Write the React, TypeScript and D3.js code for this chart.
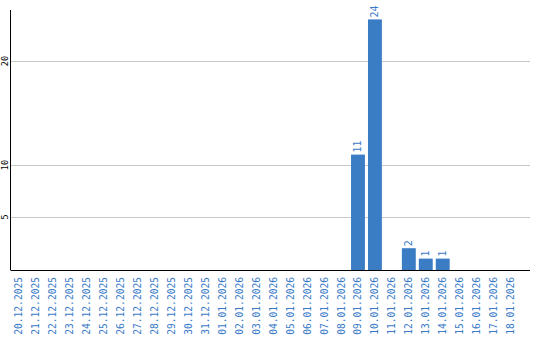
import React from "react";
import * as d3 from "d3";

const categories = [
  "20.12.2025","21.12.2025","22.12.2025","23.12.2025","24.12.2025","25.12.2025","26.12.2025","27.12.2025","28.12.2025","29.12.2025","30.12.2025","31.12.2025",
  "01.01.2026","02.01.2026","03.01.2026","04.01.2026","05.01.2026","06.01.2026","07.01.2026","08.01.2026","09.01.2026","10.01.2026","11.01.2026","12.01.2026",
  "13.01.2026","14.01.2026","15.01.2026","16.01.2026","17.01.2026","18.01.2026",
];
const values = [0,0,0,0,0,0,0,0,0,0,0,0,0,0,0,0,0,0,0,0,11,24,0,2,1,1,0,0,0,0];
const yTicks = [5, 10, 20];

const W = 540, H = 340;
const left = 10.5, right = 530, top = 10, bottom = 270;
const barColor = "#3b7dc4";
const textBlue = "#3a7bc8";
const font = "'DejaVu Sans Mono', monospace";

export default function App() {
  const x = d3.scaleBand<string>().domain(categories).range([left, 519]).paddingInner(0.18).paddingOuter(0.09);
  const y = d3.scaleLinear().domain([0, 25]).range([bottom - 1, bottom - 1 - 25 * 10.4]);
  return (
    <svg width={W} height={H} style={{ position: "absolute", left: 0, top: 0 }}>
      <rect width={W} height={H} fill="#fff" />
      {yTicks.map((t) => (
        <g key={t}>
          <line x1={left} x2={right} y1={Math.round(y(t)) + 0.5} y2={Math.round(y(t)) + 0.5} stroke="#c8c8c8" strokeWidth={1} />
          <text transform={`translate(7.5,${y(t)}) rotate(-90)`} textAnchor="middle" fontFamily={font} fontSize={8.5} fill="#000">{t}</text>
        </g>
      ))}
      {categories.map((c, i) =>
        values[i] > 0 ? (
          <g key={c}>
            <rect x={x(c)!} width={x.bandwidth()} y={y(values[i])} height={y(0) - y(values[i]) + 1} fill={barColor} />
            <text transform={`translate(${x(c)! + x.bandwidth() / 2 + 3.5},${y(values[i]) - 2}) rotate(-90)`} fontFamily={font} fontSize={10} fill={textBlue}>{values[i]}</text>
          </g>
        ) : null
      )}
      <line x1={left} x2={left} y1={top} y2={bottom} stroke="#000" strokeWidth={1} />
      <line x1={left} x2={right} y1={bottom + 0.5} y2={bottom + 0.5} stroke="#000" strokeWidth={1} />
      {categories.map((c) => (
        <text key={c} transform={`translate(${x(c)! + x.bandwidth() / 2 + 3.5},277) rotate(-90)`} textAnchor="end" fontFamily={font} fontSize={9.6} fill={textBlue}>{c}</text>
      ))}
    </svg>
  );
}
